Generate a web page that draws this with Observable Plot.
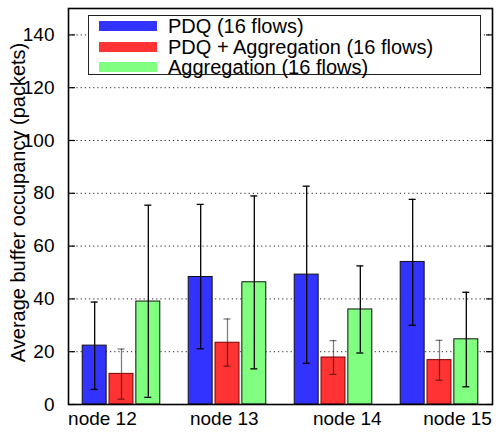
<!DOCTYPE html>
<html>
<head>
<meta charset="utf-8">
<script src="https://cdn.jsdelivr.net/npm/d3@7"></script>
<script src="https://cdn.jsdelivr.net/npm/@observablehq/plot@0.6"></script>
<style>
  body { margin: 0; background: #fff; }
  #wrap { position: relative; width: 498px; height: 432px; font-family: "Liberation Sans", Arial, sans-serif; }
  #legend { position: absolute; left: 88px; top: 15px; width: 391px; height: 58px; border: 1.5px solid #222; background: #fff; }
  .row { position: absolute; left: 0; height: 20px; line-height: 20px; display: flex; align-items: center; font-size: 20px; color: #000; white-space: nowrap; }
  .sw { width: 58px; height: 10px; margin-left: 10px; margin-right: 11px; }
</style>
</head>
<body>
<div id="wrap"></div>
<script>
const nodes = ["node 12", "node 13", "node 14", "node 15"];
const nodeLabelPos = [-0.18, 0.97, 2.13, 3.17];
const series = ["PDQ (16 flows)", "PDQ + Aggregation (16 flows)", "Aggregation (16 flows)"];
const colors = ["#3333ff", "#ff3333", "#80ff80"];
const pdq = [22.3, 48.3, 49.2, 54.0];
const pdqLo = [5.7, 21.1, 15.6, 30.0];
const pdqHi = [38.8, 75.8, 82.7, 77.7];
const pdqAgg = [11.6, 23.4, 17.8, 16.8];
const pdqAggLo = [2.0, 14.5, 11.4, 9.2];
const pdqAggHi = [21.0, 32.4, 24.2, 24.3];
const agg = [39.0, 46.3, 36.0, 24.7];
const aggLo = [2.7, 13.5, 19.5, 6.7];
const aggHi = [75.5, 79.0, 52.5, 42.5];
const yTicks = [0, 20, 40, 60, 80, 100, 120, 140];

const vals = [pdq, pdqAgg, agg], los = [pdqLo, pdqAggLo, aggLo], his = [pdqHi, pdqAggHi, aggHi];
const offsets = [-0.253, 0, 0.253];
const halfW = 0.113, capW = 0.033;
const rows = [];
series.forEach((s, si) => nodes.forEach((n, ni) => {
  rows.push({series: s, si, node: n, x: ni + offsets[si], v: vals[si][ni], lo: los[si][ni], hi: his[si][ni]});
}));

const font = "'Liberation Sans', Arial, sans-serif";
const chart = Plot.plot({
  width: 498, height: 432,
  marginLeft: 68, marginRight: 6, marginTop: 8, marginBottom: 28,
  style: {fontFamily: font, fontSize: "19px", background: "#fff", color: "#000"},
  x: {domain: [-0.5, 3.5]},
  y: {domain: [0, 150]},
  marks: [
    Plot.gridY(yTicks.slice(1), {stroke: "#000", strokeOpacity: 0.85, strokeDasharray: "1.2,3", strokeWidth: 1}),
    Plot.axisY(yTicks, {anchor: "left", tickSize: 0, tickPadding: 14, fontSize: 19, label: null}),
    Plot.axisY(yTicks, {anchor: "left", tickSize: -7, tickFormat: () => "", label: null, strokeWidth: 1.2}),
    Plot.axisY(yTicks, {anchor: "right", tickSize: -7, tickFormat: () => "", label: null, strokeWidth: 1.2}),
    Plot.axisX(nodeLabelPos, {tickSize: 0, tickPadding: 7, tickFormat: (d, i) => nodes[i], fontSize: 19, label: null}),
    Plot.text(["Average buffer occupancy (packets)"], {frameAnchor: "left", textAnchor: "middle", lineAnchor: "middle", rotate: -90, dx: -50, dy: -4, text: d => d, fontSize: 20}),
    Plot.rectY(rows, {x1: d => d.x - halfW, x2: d => d.x + halfW, y1: 0, y2: "v", fill: d => colors[d.si], stroke: d => d.si === 1 ? "#7a0000" : "#111", strokeWidth: 1, strokeDasharray: d => d.si === 1 ? "2,1" : null}),
    Plot.ruleX(rows, {x: "x", y1: "lo", y2: "hi", stroke: "#000", strokeOpacity: d => d.si === 1 ? 0.5 : 1, strokeWidth: 1.3}),
    Plot.ruleY(rows, {y: "hi", x1: d => d.x - capW, x2: d => d.x + capW, stroke: "#000", strokeOpacity: d => d.si === 1 ? 0.5 : 1, strokeWidth: 1.3}),
    Plot.ruleY(rows, {y: "lo", x1: d => d.x - capW, x2: d => d.x + capW, stroke: "#000", strokeOpacity: d => d.si === 1 ? 0.5 : 1, strokeWidth: 1.3}),
    Plot.frame({stroke: "#000", strokeWidth: 1.6})
  ]
});
const wrap = document.getElementById("wrap");
wrap.appendChild(chart);
const legend = document.createElement("div");
legend.id = "legend";
series.forEach((s, i) => {
  const row = document.createElement("div");
  row.className = "row";
  row.style.top = (0 + i * 20.5) + "px";
  const sw = document.createElement("div");
  sw.className = "sw";
  sw.style.background = colors[i];
  const t = document.createElement("span");
  t.textContent = s;
  row.appendChild(sw); row.appendChild(t);
  legend.appendChild(row);
});
wrap.appendChild(legend);
</script>
</body>
</html>
